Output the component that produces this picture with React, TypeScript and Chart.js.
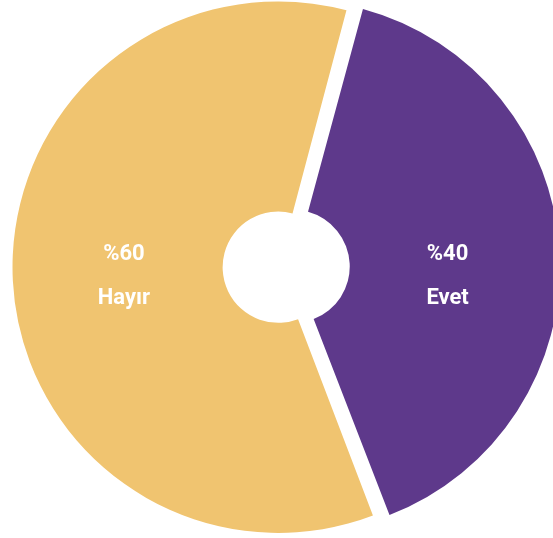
import React, { useEffect, useRef } from "react";
import { Chart, registerables } from "chart.js";

Chart.register(...registerables);

const categories = ["Evet", "Hayır"];
const values = [40, 60];
const percentLabels = ["%40", "%60"];
const sliceColors = ["#5E398B", "#F0C470"];
const sliceOffsets = [45, 15];

export default function App() {
  const canvasRef = useRef<HTMLCanvasElement>(null);

  useEffect(() => {
    document.body.style.margin = "0";
    const canvas = canvasRef.current;
    if (!canvas) return;

    const labelPlugin = {
      id: "sliceLabels",
      afterDatasetsDraw(chart: any) {
        const ctx = chart.ctx;
        const meta = chart.getDatasetMeta(0);
        meta.data.forEach((arc: any, i: number) => {
          const { x, y, startAngle, endAngle, outerRadius } = arc.getProps(
            ["x", "y", "startAngle", "endAngle", "outerRadius"],
            true
          );
          const mid = (startAngle + endAngle) / 2;
          const shift = ((arc.options && arc.options.offset) || 0) / 4;
          const cx = x + Math.cos(mid) * shift;
          const lx = cx + Math.cos(mid) * outerRadius * 0.59;
          ctx.save();
          ctx.fillStyle = "#ffffff";
          ctx.font = "bold 22px Roboto";
          ctx.textAlign = "center";
          ctx.textBaseline = "alphabetic";
          ctx.fillText(percentLabels[i], lx, y - 7);
          ctx.fillText(categories[i], lx, y + 37);
          ctx.restore();
        });
      },
    };

    const chart = new Chart(canvas, {
      type: "doughnut",
      data: {
        labels: categories,
        datasets: [
          {
            data: values,
            backgroundColor: sliceColors,
            borderWidth: 0,
            offset: sliceOffsets,
            hoverOffset: 0,
          },
        ],
      },
      options: {
        responsive: false,
        animation: false,
        rotation: 15,
        radius: 262,
        cutout: "19.8%",
        layout: { padding: { left: 11, right: 0, top: 0, bottom: 4 } },
        events: [],
        plugins: {
          legend: { display: false },
          tooltip: { enabled: false },
        },
      } as any,
      plugins: [labelPlugin],
    });

    return () => chart.destroy();
  }, []);

  return (
    <canvas
      ref={canvasRef}
      width={553}
      height={538}
      style={{ position: "fixed", left: 0, top: 0, width: 553, height: 538, display: "block" }}
    />
  );
}
